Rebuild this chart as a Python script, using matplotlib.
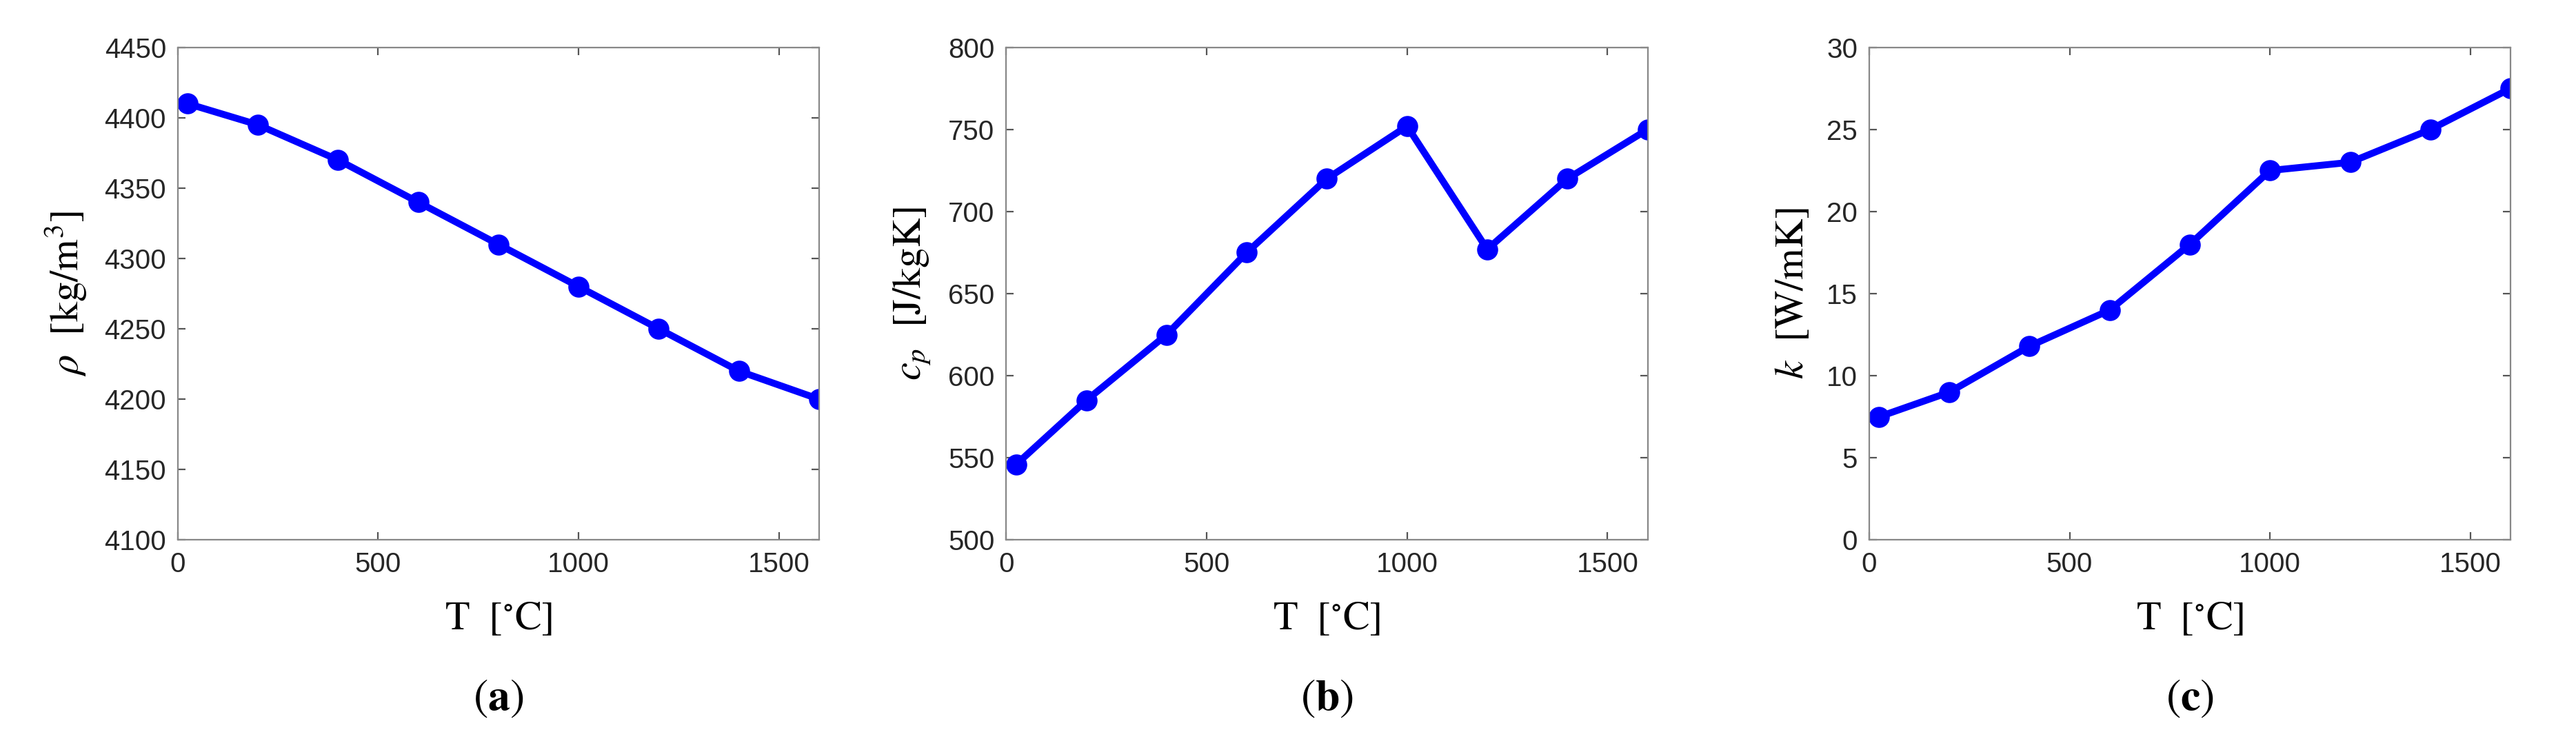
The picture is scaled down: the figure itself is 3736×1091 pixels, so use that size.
import matplotlib
matplotlib.use("Agg")
import matplotlib.pyplot as plt

plt.rcParams["mathtext.fontset"] = "stix"
plt.rcParams["font.family"] = ["Liberation Sans", "DejaVu Sans"]

temps = [25, 200, 400, 600, 800, 1000, 1200, 1400, 1600]
density = [4410, 4395, 4370, 4340, 4310, 4280, 4250, 4220, 4200]
heat_capacity = [546, 585, 625, 675, 720, 752, 677, 720, 750]
conductivity = [7.5, 9.0, 11.8, 14.0, 18.0, 22.5, 23.0, 25.0, 27.5]

panels = [
    (density, (4100, 4450), range(4100, 4451, 50), r"$\rho\ \ [\mathrm{kg/m^3}]$", "a"),
    (heat_capacity, (500, 800), range(500, 801, 50), r"$c_p\ \ [\mathrm{J/kgK}]$", "b"),
    (conductivity, (0, 30), range(0, 31, 5), r"$k\ \ [\mathrm{W/mK}]$", "c"),
]
lefts = [0.069, 0.3906, 0.7256]
width = 0.249

fig = plt.figure(figsize=(18.68, 5.455), dpi=200)
for left, (vals, ylim, yticks, ylabel, tag) in zip(lefts, panels):
    ax = fig.add_axes([left, 0.282, width, 0.655])
    ax.plot(temps, vals, color="#0000ff", lw=3.6, marker="o", ms=10)
    ax.set_xlim(0, 1600)
    ax.set_ylim(*ylim)
    ax.set_xticks([0, 500, 1000, 1500])
    ax.set_yticks(list(yticks))
    ax.tick_params(direction="in", top=True, right=True, labelsize=14.5,
                   color="#555555", labelcolor="#262626", length=4, pad=6)
    for s in ax.spines.values():
        s.set_color("#888888")
        s.set_linewidth(0.8)
    ax.set_ylabel(ylabel, fontsize=21, labelpad=8)
    ax.set_xlabel(r"$\mathrm{T}\ \ [^{\circ}\mathrm{C}]$", fontsize=21, labelpad=12)
    ax.text(0.5, -0.28, r"$(\mathbf{" + tag + r"})$", transform=ax.transAxes,
            ha="center", va="top", fontsize=23)

fig.savefig("out.png", dpi=200)
